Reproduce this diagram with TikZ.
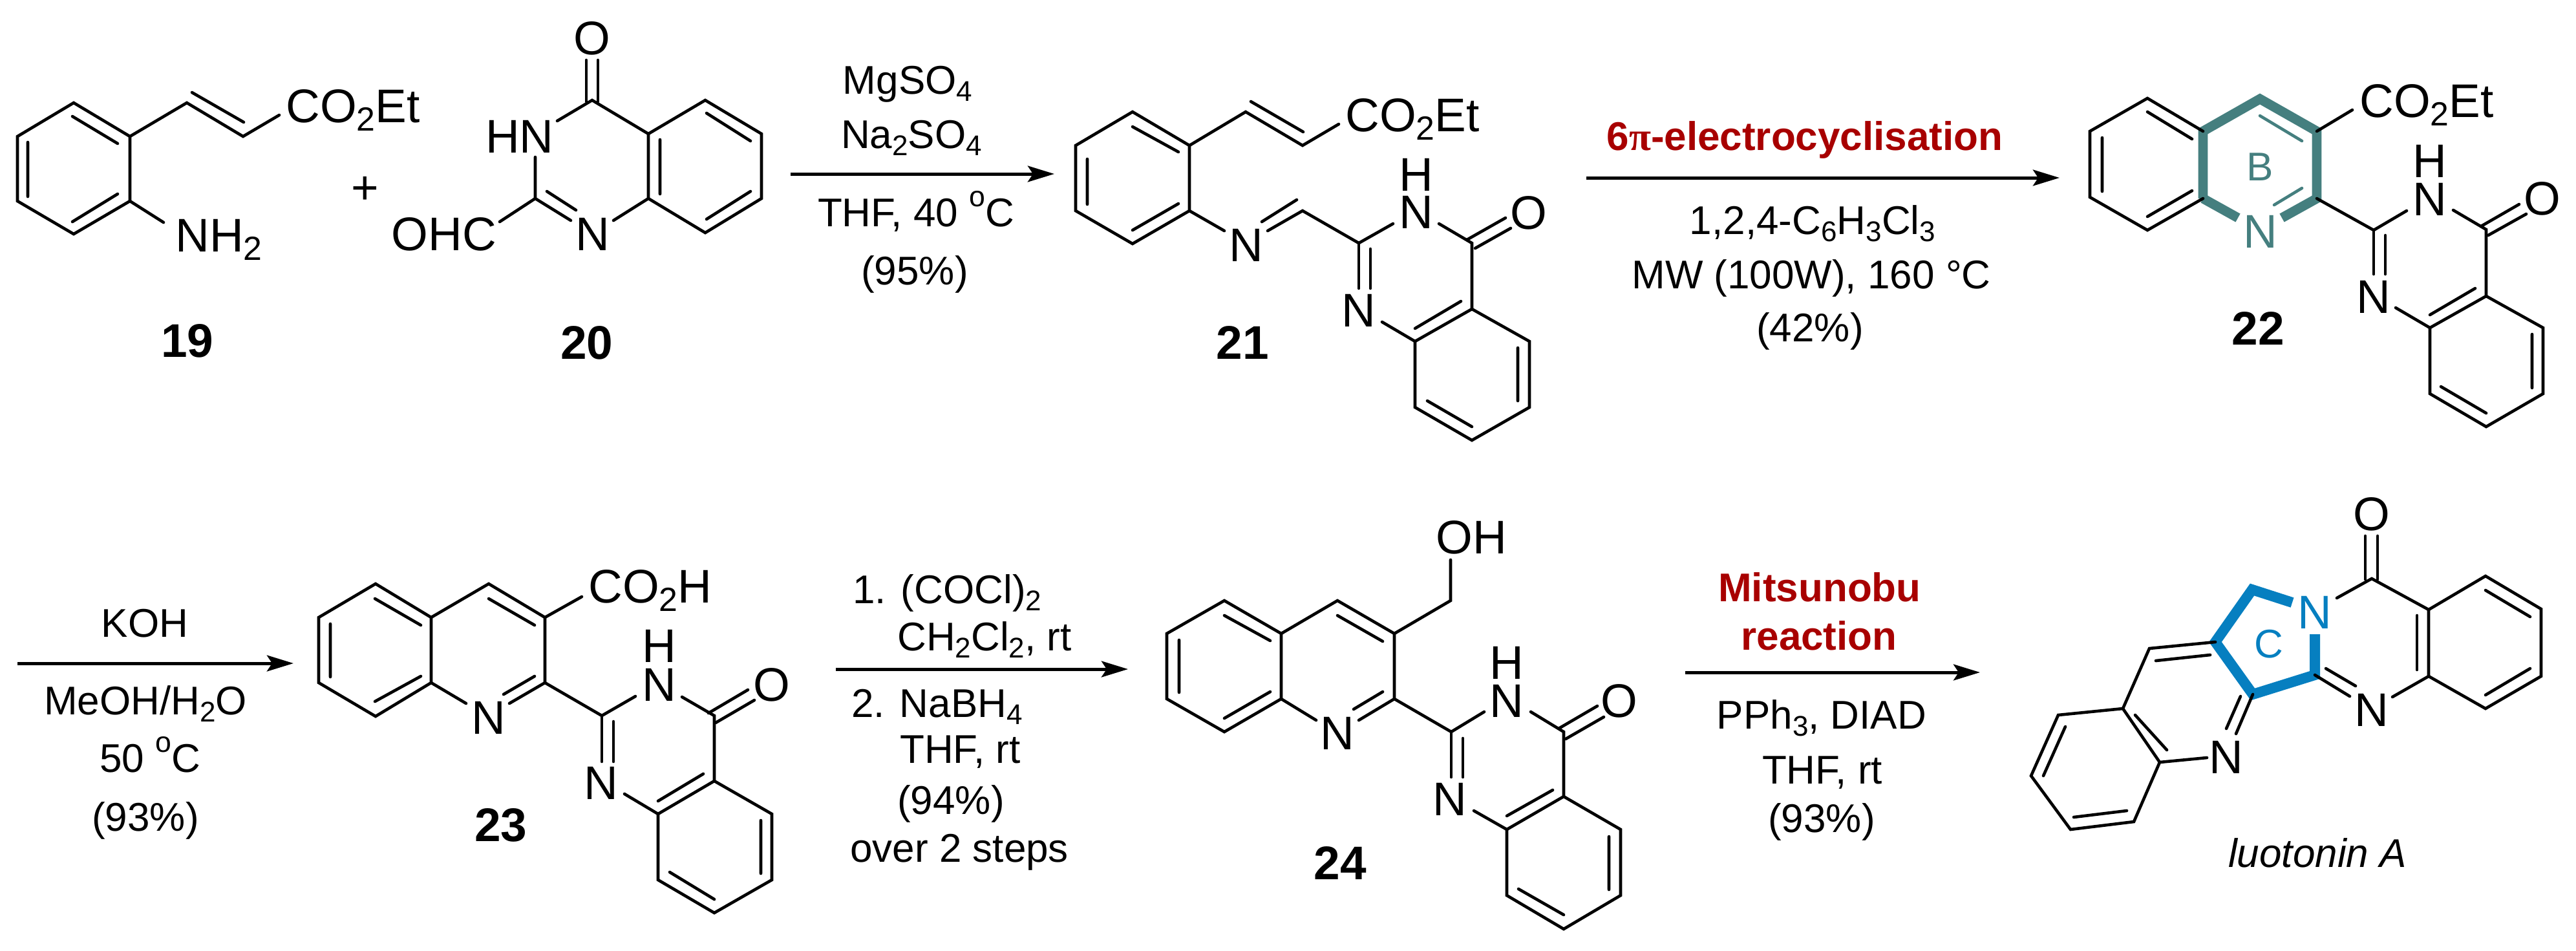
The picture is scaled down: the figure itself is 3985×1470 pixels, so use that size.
\documentclass[tikz,border=0pt]{standalone}
\usepackage{fontspec}
\setmainfont{Liberation Sans}
\newfontfamily\pifont{Liberation Serif}
\usetikzlibrary{arrows.meta}
\definecolor{ringB}{RGB}{69,127,127}
\definecolor{ringC}{RGB}{6,127,192}
\definecolor{namered}{RGB}{168,0,0}
\newcommand{\lowidx}[1]{\raisebox{-.18em}{\scalebox{.71}{#1}}}
\newcommand{\upidx}[1]{\raisebox{.5em}{\scalebox{.72}{#1}}}
\tikzset{every picture/.style={line width=1.15pt,line cap=round}}
\tikzset{
	atom/.style={font=\fontsize{18.25}{20}\selectfont,inner sep=0pt,anchor=base},
	cpd/.style={font=\fontsize{18.25}{20}\selectfont\bfseries,inner sep=0pt,anchor=base},
	reagent/.style={font=\fontsize{15.5}{18}\selectfont,inner sep=0pt,anchor=base},
	rxnname/.style={font=\fontsize{15.5}{18}\selectfont\bfseries,text=namered,inner sep=0pt,anchor=base},
	rxnarrow/.style={line width=1.25pt,line cap=butt,-{Stealth[length=10.25pt,width=6.2pt,inset=2pt]}},
	thickB/.style={line width=3.7pt,line cap=butt,draw=ringB},
	thickC/.style={line width=4pt,line cap=butt,draw=ringC}
}
\begin{document}
\begin{tikzpicture}[x=0.25pt,y=0.25pt,yscale=-1,xscale=1]
	\useasboundingbox (0,0) rectangle (3985,1470);

	%Compound 19
	\draw (114,159) -- (201,211) -- (201,311) -- (114,362) -- (27,311) -- (27,211) -- cycle ;
	\draw (112,180) -- (182,222) (43,220) -- (43,304) (182,300) -- (112,343) ;
	\draw (201,211) -- (289,159) -- (376,211) -- (432,178) ;
	\draw (297,143) -- (377,189) ;
	\draw (201,311) -- (253,344) ;
	% Text Node
	\node[atom,anchor=base west] (ester19) at (440,189) {CO\lowidx{2}Et};
	\node[atom,anchor=base west] (amine19) at (269,389) {NH\lowidx{2}};
	\node[cpd] (label19) at (290,552) {19};
	\node[atom,anchor=center] (plus) at (565,294) {+};

	%Compound 20
	\draw (907,93) -- (907,157) (925,93) -- (925,157) ;
	\draw (862,187) -- (916,155) -- (1003,207) -- (1003,307) -- (949,341) ;
	\draw (828,243) -- (828,307) -- (883,341) (846,296) -- (891,325) ;
	\draw (828,307) -- (773,343) ;
	\draw (1003,207) -- (1091,155) -- (1178,207) -- (1178,307) -- (1091,360) -- (1003,307) ;
	\draw (1021,216) -- (1021,300) (1093,175) -- (1161,218) (1161,296) -- (1093,339) ;
	% Text Node
	\node[atom] (oxo20) at (916,84) {O};
	\node[atom] (nh20) at (804,236) {HN};
	\node[atom] (cho20) at (687,387) {OHC};
	\node[atom] (n20) at (917,387) {N};
	\node[cpd] (label20) at (908,555) {20};

	%Arrow 20 to 21
	\coordinate (arrowAstart) at (1223,269);
	\coordinate (arrowAend) at (1631,269);
	\draw[rxnarrow] (arrowAstart) -- (arrowAend);
	% Text Node
	\node[reagent] (mgso) at (1404,145) {MgSO\lowidx{4}};
	\node[reagent] (naso) at (1410,229) {Na\lowidx{2}SO\lowidx{4}};
	\node[reagent] (thfA) at (1417,350) {THF, 40 \upidx{o}C};
	\node[reagent] (yieldA) at (1415,440) {(95\%)};

	%Compound 21
	\draw (1752,173) -- (1840,225) -- (1840,326) -- (1752,377) -- (1664,326) -- (1664,225) -- cycle ;
	\draw (1752,196) -- (1823,235) (1682,246) -- (1682,316) (1823,315) -- (1752,356) ;
	\draw (1840,225) -- (1927,173) -- (2015,225) -- (2071,192) ;
	\draw (1935,157) -- (2016,204) ;
	\draw (1840,326) -- (1894,357) ;
	\draw (1961,357) -- (2015,326) -- (2102,376) -- (2155,346) ;
	\draw (1952,343) -- (2006,309) ;
	\draw (2226,346) -- (2277,376) -- (2277,478) -- (2189,528) -- (2138,498) ;
	\draw (2269,371) -- (2329,337) (2282,384) -- (2337,353) ;
	\draw (2260,466) -- (2189,508) ;
	\draw (2102,376) -- (2102,446) (2120,385) -- (2120,446) ;
	\draw (2277,478) -- (2366,528) -- (2366,630) -- (2277,681) -- (2189,630) -- (2189,528) ;
	\draw (2348,538) -- (2348,620) (2277,660) -- (2208,620) ;
	% Text Node
	\node[atom,anchor=base west] (ester21) at (2079,203) {CO\lowidx{2}Et};
	\node[atom] (imine21) at (1928,404) {N};
	\node[atom] (h21) at (2191,295) {H};
	\node[atom] (nh21) at (2191,353) {N};
	\node[atom] (oxo21) at (2365,354) {O};
	\node[atom] (n21) at (2102,505) {N};
	\node[cpd] (label21) at (1922,555) {21};

	%Arrow 21 to 22
	\coordinate (arrowBstart) at (2454,275);
	\coordinate (arrowBend) at (3186,275);
	\draw[rxnarrow] (arrowBstart) -- (arrowBend);
	% Text Node
	\node[rxnname] (electro) at (2792,232) {6{\pifont π}-electrocyclisation};
	\node[reagent] (solvB) at (2804,362) {1,2,4-C\lowidx{6}H\lowidx{3}Cl\lowidx{3}};
	\node[reagent] (mwB) at (2802,446) {MW (100W), 160 °C};
	\node[reagent] (yieldB) at (2800,528) {(42\%)};

	%Compound 22
	\draw[thickB] (3408,307) -- (3408,203) -- (3496,153) -- (3584,203) -- (3584,307) -- (3530,337) ;
	\draw[thickB] (3408,307) -- (3462,337) ;
	\draw[draw=ringB] (3496,179) -- (3561,218) (3518,317) -- (3561,291) ;
	\draw (3408,203) -- (3322,152) -- (3233,203) -- (3233,305) -- (3322,356) -- (3408,307) ;
	\draw (3322,173) -- (3391,215) (3252,213) -- (3252,296) (3391,295) -- (3322,335) ;
	\draw (3584,203) -- (3639,170) ;
	\draw (3584,307) -- (3672,356) -- (3723,326) ;
	\draw (3795,325) -- (3846,355) -- (3846,458) -- (3759,507) -- (3706,476) ;
	\draw (3838,350) -- (3897,316) (3849,364) -- (3908,331) ;
	\draw (3829,446) -- (3759,487) ;
	\draw (3672,356) -- (3672,424) (3690,364) -- (3690,424) ;
	\draw (3846,458) -- (3934,507) -- (3934,609) -- (3846,660) -- (3759,609) -- (3759,507) ;
	\draw (3917,517) -- (3917,600) (3846,639) -- (3776,598) ;
	% Text Node
	\node[atom,anchor=base west] (ester22) at (3648,181) {CO\lowidx{2}Et};
	\node[atom,text=ringB] (pyr22) at (3497,383) {N};
	\node[reagent,text=ringB] (ringlabelB) at (3496,279) {B};
	\node[atom] (h22) at (3759,274) {H};
	\node[atom] (nh22) at (3759,333) {N};
	\node[atom] (oxo22) at (3933,332) {O};
	\node[atom] (n22) at (3672,484) {N};
	\node[cpd] (label22) at (3493,533) {22};

	%Arrow 22 to 23
	\coordinate (arrowCstart) at (27,1026);
	\coordinate (arrowCend) at (454,1026);
	\draw[rxnarrow] (arrowCstart) -- (arrowCend);
	% Text Node
	\node[reagent] (koh) at (224,985) {KOH};
	\node[reagent] (solvC) at (225,1105) {MeOH/H\lowidx{2}O};
	\node[reagent] (tempC) at (232,1194) {50 \upidx{o}C};
	\node[reagent] (yieldC) at (225,1285) {(93\%)};

	%Compound 23
	\draw (667,955) -- (581,903) -- (493,955) -- (493,1056) -- (581,1108) -- (667,1056) -- cycle ;
	\draw (580,926) -- (651,967) (511,965) -- (511,1047) (651,1046) -- (580,1085) ;
	\draw (667,955) -- (756,903) -- (843,955) -- (843,1056) -- (788,1088) ;
	\draw (667,1056) -- (721,1088) ;
	\draw (756,926) -- (827,967) (827,1046) -- (779,1074) ;
	\draw (843,955) -- (900,923) ;
	\draw (843,1056) -- (931,1107) -- (983,1077) ;
	\draw (1055,1078) -- (1105,1107) -- (1105,1208) -- (1018,1259) -- (966,1228) ;
	\draw (1096,1103) -- (1157,1067) (1107,1118) -- (1167,1083) ;
	\draw (1088,1197) -- (1018,1239) ;
	\draw (931,1107) -- (931,1178) (949,1116) -- (949,1178) ;
	\draw (1105,1208) -- (1194,1259) -- (1194,1361) -- (1105,1412) -- (1018,1361) -- (1018,1259) ;
	\draw (1177,1269) -- (1177,1351) (1105,1391) -- (1036,1349) ;
	% Text Node
	\node[atom,anchor=base west] (acid23) at (908,932) {CO\lowidx{2}H};
	\node[atom] (pyr23) at (756,1135) {N};
	\node[atom] (h23) at (1020,1024) {H};
	\node[atom] (nh23) at (1020,1084) {N};
	\node[atom] (oxo23) at (1194,1084) {O};
	\node[atom] (n23) at (930,1236) {N};
	\node[cpd] (label23) at (775,1301) {23};

	%Arrow 23 to 24
	\coordinate (arrowDstart) at (1293,1035);
	\coordinate (arrowDend) at (1745,1035);
	\draw[rxnarrow] (arrowDstart) -- (arrowDend);
	% Text Node
	\node[reagent,anchor=base west] (stepone) at (1317,933) {1. (COCl)\lowidx{2}};
	\node[reagent,anchor=base west] (solvD) at (1386,1006) {CH\lowidx{2}Cl\lowidx{2}, rt};
	\node[reagent,anchor=base west] (steptwo) at (1315,1109) {2. NaBH\lowidx{4}};
	\node[reagent,anchor=base west] (thfD) at (1390,1180) {THF, rt};
	\node[reagent,anchor=base west] (yieldD) at (1386,1259) {(94\%)};
	\node[reagent,anchor=base west] (over) at (1313,1333) {over 2 steps};

	%Compound 24
	\draw (1982,980) -- (1894,929) -- (1805,980) -- (1805,1081) -- (1894,1132) -- (1982,1081) -- cycle ;
	\draw (1894,952) -- (1965,991) (1824,990) -- (1824,1071) (1965,1070) -- (1894,1111) ;
	\draw (1982,980) -- (2069,929) -- (2157,980) -- (2157,1081) -- (2102,1114) ;
	\draw (1982,1081) -- (2036,1114) ;
	\draw (2069,952) -- (2139,992) (2139,1070) -- (2094,1097) ;
	\draw (2157,980) -- (2244,929) -- (2244,866) ;
	\draw (2157,1081) -- (2245,1132) -- (2296,1101) ;
	\draw (2368,1101) -- (2419,1132) -- (2419,1232) -- (2331,1283) -- (2280,1254) ;
	\draw (2411,1127) -- (2471,1092) (2422,1143) -- (2481,1109) ;
	\draw (2402,1222) -- (2331,1262) ;
	\draw (2245,1132) -- (2245,1202) (2263,1142) -- (2263,1202) ;
	\draw (2419,1232) -- (2507,1283) -- (2507,1385) -- (2419,1437) -- (2331,1385) -- (2331,1283) ;
	\draw (2489,1294) -- (2489,1376) (2419,1415) -- (2349,1375) ;
	% Text Node
	\node[atom,anchor=base west] (alcohol24) at (2219,856) {OH};
	\node[atom] (pyr24) at (2069,1159) {N};
	\node[atom] (h24) at (2331,1050) {H};
	\node[atom] (nh24) at (2331,1109) {N};
	\node[atom] (oxo24) at (2505,1109) {O};
	\node[atom] (n24) at (2243,1261) {N};
	\node[cpd] (label24) at (2073,1360) {24};

	%Arrow 24 to luotonin
	\coordinate (arrowEstart) at (2607,1040);
	\coordinate (arrowEend) at (3063,1040);
	\draw[rxnarrow] (arrowEstart) -- (arrowEend);
	% Text Node
	\node[rxnname] (mitsu) at (2815,930) {Mitsunobu};
	\node[rxnname] (reaction) at (2814,1005) {reaction};
	\node[reagent] (pphE) at (2818,1127) {PPh\lowidx{3}, DIAD};
	\node[reagent] (thfE) at (2819,1212) {THF, rt};
	\node[reagent] (yieldE) at (2818,1287) {(93\%)};

	%Luotonin A
	\draw[thickC] (3546,932) -- (3484,912) -- (3427,993) -- (3485,1074) -- (3581,1044) -- (3581,981) ;
	\draw (3659,829) -- (3659,896) (3678,829) -- (3678,896) ;
	\draw (3615,925) -- (3669,895) -- (3757,943) -- (3757,1046) -- (3701,1078) ;
	\draw (3581,1044) -- (3635,1077) (3598,1034) -- (3644,1061) ;
	\draw (3739,952) -- (3739,1036) ;
	\draw (3757,943) -- (3845,891) -- (3931,942) -- (3931,1046) -- (3845,1096) -- (3757,1046) ;
	\draw (3845,913) -- (3914,954) (3914,1034) -- (3845,1075) ;
	\draw (3427,993) -- (3325,1003) -- (3284,1096) -- (3184,1106) -- (3142,1200) -- (3203,1283) -- (3301,1271) -- (3341,1179) -- (3284,1096) ;
	\draw (3419,1013) -- (3335,1022) ;
	\draw (3341,1179) -- (3414,1172) ;
	\draw (3485,1074) -- (3459,1135) (3466,1077) -- (3444,1127) ;
	\draw (3303,1106) -- (3352,1160) (3195,1124) -- (3161,1200) (3208,1264) -- (3290,1254) ;
	% Text Node
	\node[atom] (oxoLA) at (3669,820) {O};
	\node[atom,text=ringC] (nLA) at (3581,972) {N};
	\node[reagent,text=ringC] (ringlabelC) at (3510,1017) {C};
	\node[atom] (nLAb) at (3669,1123) {N};
	\node[atom] (nLAc) at (3444,1196) {N};
	\node[reagent,font=\fontsize{15.5}{18}\selectfont\itshape] (nameLA) at (3585,1341) {luotonin A};
\end{tikzpicture}
\end{document}
